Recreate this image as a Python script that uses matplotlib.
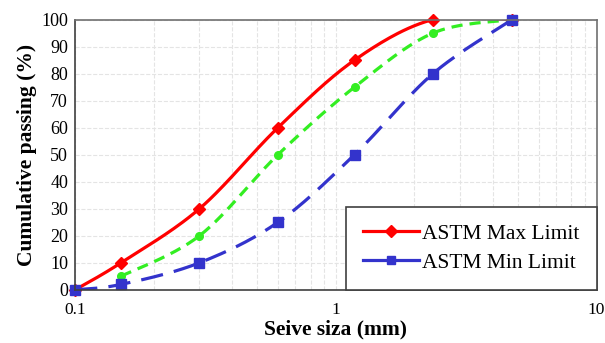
import numpy as np
import matplotlib.pyplot as plt

# sieve sizes (mm) and % passing
sieve_max = [0.1, 0.15, 0.3, 0.6, 1.18, 2.36, 4.75]
pass_max = [0, 10, 30, 60, 85, 100, 100]

sieve_mid = [0.15, 0.3, 0.6, 1.18, 2.36, 4.75]
pass_mid = [5, 20, 50, 75, 95, 100]

sieve_min = [0.1, 0.15, 0.3, 0.6, 1.18, 2.36, 4.75]
pass_min = [0, 2, 10, 25, 50, 80, 100]


def smooth(xs, ys, n=30):
    # Catmull-Rom curve through the points in log-x space (like Excel's smoothed line)
    lx = np.log10(xs)
    ys = np.asarray(ys, float)
    px = np.concatenate([[lx[0]], lx, [lx[-1]]])
    py = np.concatenate([[ys[0]], ys, [ys[-1]]])
    ox, oy = [], []
    t = np.linspace(0, 1, n)
    for i in range(1, len(px) - 2):
        for p, out in ((px, ox), (py, oy)):
            p0, p1, p2, p3 = p[i - 1], p[i], p[i + 1], p[i + 2]
            m1 = (p2 - p0) / 2
            m2 = (p3 - p1) / 2
            h00 = 2 * t**3 - 3 * t**2 + 1
            h10 = t**3 - 2 * t**2 + t
            h01 = -2 * t**3 + 3 * t**2
            h11 = t**3 - t**2
            out.extend(h00 * p1 + h10 * m1 + h01 * p2 + h11 * m2)
    return 10 ** np.array(ox), np.array(oy)


plt.rcParams['font.family'] = ['Liberation Serif', 'DejaVu Serif']

fig = plt.figure(figsize=(6.05, 3.43), dpi=100)
ax = fig.add_axes([0.124, 0.155, 0.862, 0.788])

red = '#ff0000'
green = '#33ee22'
blue = '#3333cc'

sx, sy = smooth(sieve_mid, pass_mid)
ax.plot(sx, sy, '--', color=green, lw=2.3, dashes=(3.5, 2.2))
ax.plot(sieve_mid, pass_mid, 'o', color=green, ms=5.5, ls='none', clip_on=False)

sx, sy = smooth(sieve_max, pass_max)
ax.plot(sx, sy, '-', color=red, lw=2.3)
ax.plot(sieve_max, pass_max, 'D', color=red, ms=6.5, ls='none', clip_on=False)

sx, sy = smooth(sieve_min, pass_min)
ax.plot(sx, sy, '-', color=blue, lw=2.3, dashes=(7, 3.5))
ax.plot(sieve_min, pass_min, 's', color=blue, ms=6.5, ls='none', clip_on=False)

# legend proxies
h1, = ax.plot([], [], '-D', color=red, lw=2.3, ms=6, label='ASTM Max Limit')
h2, = ax.plot([], [], '-s', color=blue, lw=2.3, ms=6, label='ASTM Min Limit')

ax.set_xscale('log')
ax.set_xlim(0.1, 10)
ax.set_ylim(0, 100)
ax.set_yticks(range(0, 101, 10))
ax.set_xticks([0.1, 1, 10])
ax.set_xticklabels(['0.1', '1', '10'])
ax.tick_params(axis='both', which='both', length=0, labelsize=13, pad=5)
ax.tick_params(axis='x', pad=9, labelsize=12.5)

ax.grid(True, which='both', color='#e4e4e4', ls='--', lw=0.8)
ax.set_axisbelow(True)

for s in ['top', 'right']:
    ax.spines[s].set_color('#707070')
    ax.spines[s].set_linewidth(1.2)
for s in ['left', 'bottom']:
    ax.spines[s].set_color('#404040')
    ax.spines[s].set_linewidth(1.2)

ax.set_xlabel('Seive siza (mm)', fontsize=15.5, fontweight='bold', labelpad=1)
ax.set_ylabel('Cumulative passing (%)', fontsize=15.5, fontweight='bold', labelpad=3)

leg = ax.legend(handles=[h1, h2], loc='lower right', fontsize=15.5, frameon=True,
                fancybox=False, edgecolor='#404040', framealpha=1,
                borderaxespad=0, handlelength=2.6, handletextpad=0.15,
                borderpad=0.8, labelspacing=0.4)
leg.get_frame().set_linewidth(1.2)

plt.savefig('out.png', dpi=100)
